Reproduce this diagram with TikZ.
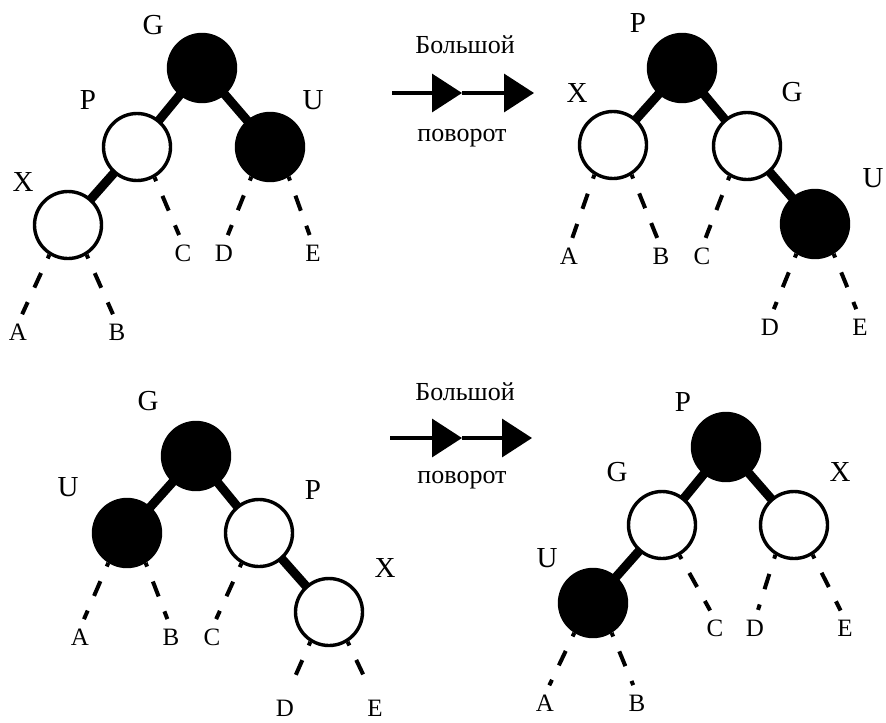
\documentclass[tikz,border=0pt]{standalone}
\usepackage{fontspec}
\setmainfont{Liberation Serif}
\usetikzlibrary{arrows.meta}

\begin{document}
\begin{tikzpicture}[x=0.5pt, y=-0.5pt,
        blk/.style={circle, draw, fill=black, line width=1.7pt, minimum size=33.5pt, inner sep=0pt},
        wht/.style={circle, draw, fill=white, line width=1.7pt, minimum size=33.5pt, inner sep=0pt},
        tag/.style={font=\fontsize{14.5}{15}\selectfont, inner sep=0pt},
        lf/.style={font=\fontsize{12.5}{13}\selectfont, inner sep=0pt},
        word/.style={font=\fontsize{13}{13}\selectfont, inner sep=0pt},
        link/.style={line width=4.5pt, shorten <=-1.5pt, shorten >=-1.5pt},
        dsh/.style={line width=2pt, dash pattern=on 8pt off 8pt, dash phase=6pt, shorten >=5pt},
        rot/.style={line width=1.7pt, -{Triangle[length=15pt, width=19pt]}}]
        \useasboundingbox (0, 0) rectangle (886, 722);
        % top left
        \node (g1) at (202, 68) [blk] {};
        \node (p1) at (137, 147) [wht] {};
        \node (u1) at (270, 147) [blk] {};
        \node (x1) at (68, 225) [wht] {};
        \node (tg1) at (153, 25) [tag] {G};
        \node (tp1) at (88, 100) [tag] {P};
        \node (tu1) at (313, 100) [tag] {U};
        \node (tx1) at (23, 182) [tag] {X};
        \node (la1) at (18, 332) [lf] {A};
        \node (lb1) at (117, 332) [lf] {B};
        \node (lc1) at (183, 253) [lf] {C};
        \node (ld1) at (224, 253) [lf] {D};
        \node (le1) at (313, 253) [lf] {E};
        \draw [link] (g1) -- (p1);
        \draw [link] (g1) -- (u1);
        \draw [link] (p1) -- (x1);
        \draw [dsh] (x1.-122) -- (la1.north);
        \draw [dsh] (x1.-58) -- (lb1.north);
        \draw [dsh] (p1.-60) -- (lc1.north);
        \draw [dsh] (u1.-122) -- (ld1.north);
        \draw [dsh] (u1.-58) -- (le1.north);
        % top arrow
        \coordinate (t1) at (392, 93);
        \coordinate (t2) at (462, 93);
        \coordinate (t3) at (534, 93);
        \draw [rot] (t1) -- (t2);
        \draw [rot] (t2) -- (t3);
        \node (w1) at (465, 45) [word] {Большой};
        \node (w2) at (462, 138) [word] {поворот};
        % top right
        \node (p2) at (682, 68) [blk] {};
        \node (x2) at (613, 145) [wht] {};
        \node (g2) at (747, 146) [wht] {};
        \node (u2) at (815, 224) [blk] {};
        \node (tp2) at (638, 23) [tag] {P};
        \node (tx2) at (577, 93) [tag] {X};
        \node (tg2) at (792, 92) [tag] {G};
        \node (tu2) at (873, 178) [tag] {U};
        \node (la2) at (569, 256) [lf] {A};
        \node (lb2) at (661, 256) [lf] {B};
        \node (lc2) at (702, 256) [lf] {C};
        \node (ld2) at (770, 327) [lf] {D};
        \node (le2) at (860, 327) [lf] {E};
        \draw [link] (p2) -- (x2);
        \draw [link] (p2) -- (g2);
        \draw [link] (g2) -- (u2);
        \draw [dsh] (x2.-122) -- (la2.north);
        \draw [dsh] (x2.-58) -- (lb2.north);
        \draw [dsh] (g2.-120) -- (lc2.north);
        \draw [dsh] (u2.-122) -- (ld2.north);
        \draw [dsh] (u2.-58) -- (le2.north);
        % bottom left
        \node (g3) at (196, 456) [blk] {};
        \node (u3) at (127, 533) [blk] {};
        \node (p3) at (259, 533) [wht] {};
        \node (x3) at (329, 612) [wht] {};
        \node (tg3) at (148, 401) [tag] {G};
        \node (tu3) at (68, 487) [tag] {U};
        \node (tp3) at (313, 490) [tag] {P};
        \node (tx3) at (385, 568) [tag] {X};
        \node (la3) at (80, 637) [lf] {A};
        \node (lb3) at (171, 637) [lf] {B};
        \node (lc3) at (212, 637) [lf] {C};
        \node (ld3) at (285, 708) [lf] {D};
        \node (le3) at (375, 708) [lf] {E};
        \draw [link] (g3) -- (u3);
        \draw [link] (g3) -- (p3);
        \draw [link] (p3) -- (x3);
        \draw [dsh] (u3.-122) -- (la3.north);
        \draw [dsh] (u3.-58) -- (lb3.north);
        \draw [dsh] (p3.-120) -- (lc3.north);
        \draw [dsh, shorten >=7pt] (x3.-122) -- (ld3.north);
        \draw [dsh, shorten >=7pt] (x3.-58) -- (le3.north);
        % bottom arrow
        \coordinate (s1) at (390, 438);
        \coordinate (s2) at (462, 438);
        \coordinate (s3) at (532, 438);
        \draw [rot] (s1) -- (s2);
        \draw [rot] (s2) -- (s3);
        \node (w3) at (465, 392) [word] {Большой};
        \node (w4) at (462, 480) [word] {поворот};
        % bottom right
        \node (p4) at (726, 447) [blk] {};
        \node (g4) at (662, 525) [wht] {};
        \node (x4) at (794, 525) [wht] {};
        \node (u4) at (593, 603) [blk] {};
        \node (tp4) at (683, 402) [tag] {P};
        \node (tg4) at (617, 472) [tag] {G};
        \node (tx4) at (840, 472) [tag] {X};
        \node (tu4) at (547, 558) [tag] {U};
        \node (la4) at (545, 703) [lf] {A};
        \node (lb4) at (637, 703) [lf] {B};
        \node (lc4) at (715, 628) [lf] {C};
        \node (ld4) at (755, 628) [lf] {D};
        \node (le4) at (845, 628) [lf] {E};
        \draw [link] (p4) -- (g4);
        \draw [link] (p4) -- (x4);
        \draw [link] (g4) -- (u4);
        \draw [dsh] (u4.-122) -- (la4.north);
        \draw [dsh] (u4.-58) -- (lb4.north);
        \draw [dsh] (g4.-60) -- (lc4.north);
        \draw [dsh] (x4.-122) -- (ld4.north);
        \draw [dsh] (x4.-58) -- (le4.north);
    \end{tikzpicture}
\end{document}
